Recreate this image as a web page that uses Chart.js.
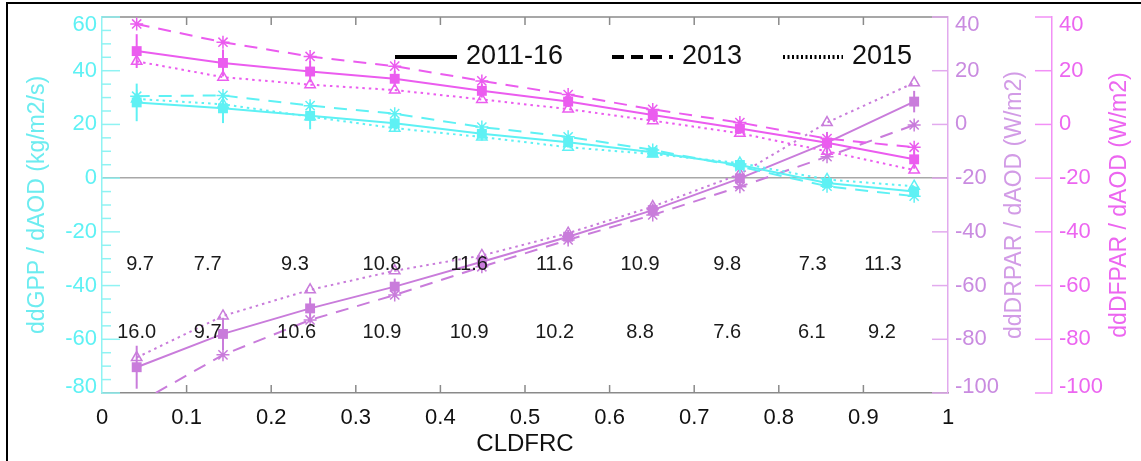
<!DOCTYPE html>
<html>
<head>
<meta charset="utf-8">
<title>CLDFRC sensitivity</title>
<script src="https://cdn.jsdelivr.net/npm/chart.js@4.4.1/dist/chart.umd.min.js"></script>
<style>
  html, body { margin: 0; padding: 0; background: #fff; overflow: hidden; }
  #wrap { position: relative; width: 1141px; height: 461px; overflow: hidden; }
  #frame { position: absolute; left: 6px; top: 2px; width: 1200px; height: 500px;
           border-top: 2px solid #000; border-left: 2px solid #000; pointer-events: none; }
</style>
</head>
<body>
<div id="wrap">
  <canvas id="cv" width="1141" height="461"></canvas>
  <div id="frame"></div>
</div>
<script>
// ---- values ----
const CLDFRC = [0.041, 0.143, 0.246, 0.346, 0.449, 0.551, 0.651, 0.754, 0.857, 0.960];

// ddGPP / dAOD (left axis)
const GPP_2011 = [28.2, 26.0, 23.2, 20.4, 16.5, 13.4, 9.6, 4.9, -1.8, -5.0];
const GPP_2013 = [30.5, 30.8, 27.0, 24.0, 19.0, 15.4, 10.5, 4.3, -3.0, -6.7];
const GPP_2015 = [29.5, 27.5, 22.9, 18.6, 15.3, 11.5, 9.0, 5.6, -0.5, -3.0];
const GPP_ERR  = [7.0, 5.5, 5.0, 3.0, 2.5, 2.0, 1.5, 1.5, 1.5, 2.0];

// ddDFPAR / dAOD (outer right axis)
const DFPAR_2011 = [27.3, 22.9, 19.7, 17.0, 12.5, 8.5, 3.5, -1.5, -6.8, -13.0];
const DFPAR_2013 = [37.4, 30.6, 25.3, 21.7, 16.2, 11.1, 5.6, 0.7, -5.3, -8.5];
const DFPAR_2015 = [23.5, 17.6, 14.8, 12.8, 9.3, 5.7, 1.4, -3.3, -10.0, -17.0];
const DFPAR_ERR  = [6.3, 5.0, 4.0, 3.0, 2.5, 2.0, 2.0, 2.0, 3.0, 3.5];

// ddDRPAR / dAOD (inner right axis)
const DRPAR_2011 = [-90.4, -78.0, -68.5, -60.4, -51.1, -41.8, -31.9, -20.1, -6.8, 8.5];
const DRPAR_2013 = [-104.0, -85.8, -72.8, -63.5, -53.0, -43.0, -33.7, -23.2, -12.0, -0.2];
const DRPAR_2015 = [-86.8, -71.3, -61.6, -54.5, -48.8, -40.5, -30.6, -18.5, 0.7, 15.5];
const DRPAR_ERR  = [8.0, 6.0, 4.0, 3.0, 2.5, 2.5, 2.5, 2.5, 4.0, 4.0];

// number rows printed inside the plot (placed on the GPP axis)
const ROW1_X = [0.045, 0.125, 0.228, 0.331, 0.434, 0.535, 0.636, 0.739, 0.840, 0.923];
const ROW1_TXT = ['9.7', '7.7', '9.3', '10.8', '11.6', '11.6', '10.9', '9.8', '7.3', '11.3'];
const ROW1_Y = -32.3;
const ROW2_X = [0.041, 0.125, 0.230, 0.331, 0.434, 0.535, 0.636, 0.739, 0.839, 0.922];
const ROW2_TXT = ['16.0', '9.7', '10.6', '10.9', '10.9', '10.2', '8.8', '7.6', '6.1', '9.2'];
const ROW2_Y = -57.6;

// ticks
const X_TICK_LABELS = ['0', '0.1', '0.2', '0.3', '0.4', '0.5', '0.6', '0.7', '0.8', '0.9', '1'];
const GPP_TICK_LABELS = ['-80', '-60', '-40', '-20', '0', '20', '40', '60'];
const PAR_TICK_LABELS = ['-100', '-80', '-60', '-40', '-20', '0', '20', '40'];
const LEGEND_LABELS = ['2011-16', '2013', '2015'];

// ---- colours ----
const CYAN = '#5ef1f4';
const CYAN_AXIS = '#8ff3f3';
const MAGENTA = '#eb5cef';
const MAGENTA_AXIS = '#f290f6';
const ORCHID = '#c97cdb';
const ORCHID_AXIS = '#e2aaee';
const FRAME_GREY = '#8a8a8a';
const FONT = "'Liberation Sans', Arial, Helvetica, sans-serif";

// ---- datasets ----
const STYLE = {
    solid:  { dash: [],       point: 'rect',     radius: 7 },
    dashed: { dash: [13, 9],  point: 'star',     radius: 6.5 },
    dotted: { dash: [2.5, 4], point: 'triangle', radius: 6 }
};

function makeSet(label, ys, color, axis, kind) {
    const s = STYLE[kind];
    return {
        label: label,
        yAxisID: axis,
        data: CLDFRC.map((x, i) => ({ x: x, y: ys[i] })),
        showLine: true,
        borderColor: color,
        borderWidth: 2,
        borderDash: s.dash,
        pointStyle: s.point,
        pointRadius: s.radius,
        pointHoverRadius: s.radius,
        pointBorderColor: color,
        pointBorderWidth: kind === 'solid' ? 0 : 1.5,
        pointBackgroundColor: kind === 'solid' ? color : 'rgba(255,255,255,0)',
        tension: 0,
        fill: false
    };
}

const datasets = [
    makeSet('GPP 2011-16', GPP_2011, CYAN, 'y', 'solid'),
    makeSet('GPP 2013', GPP_2013, CYAN, 'y', 'dashed'),
    makeSet('GPP 2015', GPP_2015, CYAN, 'y', 'dotted'),
    makeSet('DFPAR 2011-16', DFPAR_2011, MAGENTA, 'y2', 'solid'),
    makeSet('DFPAR 2013', DFPAR_2013, MAGENTA, 'y2', 'dashed'),
    makeSet('DFPAR 2015', DFPAR_2015, MAGENTA, 'y2', 'dotted'),
    makeSet('DRPAR 2011-16', DRPAR_2011, ORCHID, 'y1', 'solid'),
    makeSet('DRPAR 2013', DRPAR_2013, ORCHID, 'y1', 'dashed'),
    makeSet('DRPAR 2015', DRPAR_2015, ORCHID, 'y1', 'dotted')
];

const ERROR_BARS = [
    { axis: 'y',  ys: GPP_2011,   err: GPP_ERR,   color: CYAN },
    { axis: 'y2', ys: DFPAR_2011, err: DFPAR_ERR, color: MAGENTA },
    { axis: 'y1', ys: DRPAR_2011, err: DRPAR_ERR, color: ORCHID }
];

// ---- helpers ----
function seg(ctx, x0, y0, x1, y1) {
    ctx.beginPath();
    ctx.moveTo(x0, y0);
    ctx.lineTo(x1, y1);
    ctx.stroke();
}

// y labels, kept inside the axis span like the original plot does
function yLabels(ctx, scale, labels, x, align, color) {
    ctx.fillStyle = color;
    ctx.textAlign = align;
    ctx.textBaseline = 'middle';
    ctx.font = '22px ' + FONT;
    scale.ticks.forEach((t, i) => {
        let py = scale.getPixelForValue(t.value);
        py = Math.min(Math.max(py, scale.top + 7.5), scale.bottom - 6.5);
        ctx.fillText(labels[i], x, py);
    });
}

function vTitle(ctx, text, x, y, color) {
    ctx.save();
    ctx.translate(x, y);
    ctx.rotate(-Math.PI / 2);
    ctx.fillStyle = color;
    ctx.font = '23px ' + FONT;
    ctx.textAlign = 'center';
    ctx.textBaseline = 'middle';
    ctx.fillText(text, 0, 0);
    ctx.restore();
}

// ---- plugins ----
const frameTicks = {
    id: 'frameTicks',
    beforeDatasetsDraw(chart) {
        const { ctx, chartArea: a, scales } = chart;
        const xs = scales.x, yl = scales.y, yr1 = scales.y1, yr2 = scales.y2;
        ctx.save();
        ctx.lineWidth = 1.5;

        // top frame + x ticks (inward, top and bottom)
        ctx.strokeStyle = FRAME_GREY;
        seg(ctx, a.left, a.top, a.right, a.top);
        xs.ticks.forEach(t => {
            if (t.value <= 0.001 || t.value >= 0.999) return;
            const px = xs.getPixelForValue(t.value);
            seg(ctx, px, a.top, px, a.top + 8);
            seg(ctx, px, a.bottom, px, a.bottom - 8);
        });

        // left axis: major every 20, minor every 5
        ctx.strokeStyle = CYAN_AXIS;
        for (let v = yl.min; v <= yl.max; v += 5) {
            const py = yl.getPixelForValue(v);
            seg(ctx, a.left, py, a.left + (v % 20 === 0 ? 18 : 9), py);
        }

        // inner right axis ticks point into the plot
        ctx.strokeStyle = ORCHID_AXIS;
        yr1.ticks.forEach(t => {
            const py = yr1.getPixelForValue(t.value);
            seg(ctx, a.right, py, a.right - 16, py);
        });

        // outer right axis ticks point left
        ctx.strokeStyle = MAGENTA_AXIS;
        yr2.ticks.forEach(t => {
            const py = yr2.getPixelForValue(t.value);
            seg(ctx, yr2.left, py, yr2.left - 17, py);
        });

        // error bars of the 2011-16 series
        ctx.lineWidth = 2;
        ERROR_BARS.forEach(e => {
            const sc = scales[e.axis];
            ctx.strokeStyle = e.color;
            CLDFRC.forEach((x, i) => {
                const px = xs.getPixelForValue(x);
                const top = Math.max(sc.getPixelForValue(e.ys[i] + e.err[i]), a.top);
                const bot = Math.min(sc.getPixelForValue(e.ys[i] - e.err[i]), a.bottom);
                if (bot > top) seg(ctx, px, top, px, bot);
            });
        });
        ctx.restore();
    },
    afterDraw(chart) {
        const { ctx, chartArea: a, scales } = chart;
        const xs = scales.x, yl = scales.y, yr1 = scales.y1, yr2 = scales.y2;
        ctx.save();

        yLabels(ctx, yl, GPP_TICK_LABELS, a.left - 5, 'right', CYAN);
        yLabels(ctx, yr1, PAR_TICK_LABELS, yr1.left + 7, 'left', '#c98be0');
        yLabels(ctx, yr2, PAR_TICK_LABELS, yr2.left + 7, 'left', '#ec66f0');

        const midY = (a.top + a.bottom) / 2;
        vTitle(ctx, 'ddDRPAR / dAOD (W/m2)', yr1.left + 67, midY, '#d29be6');
        vTitle(ctx, 'ddDFPAR / dAOD (W/m2)', yr2.left + 68, midY, '#ec66f0');

        // number rows
        ctx.fillStyle = '#1a1a1a';
        ctx.font = '20px ' + FONT;
        ctx.textAlign = 'center';
        ctx.textBaseline = 'middle';
        ROW1_TXT.forEach((s, i) => ctx.fillText(s, xs.getPixelForValue(ROW1_X[i]), yl.getPixelForValue(ROW1_Y)));
        ROW2_TXT.forEach((s, i) => ctx.fillText(s, xs.getPixelForValue(ROW2_X[i]), yl.getPixelForValue(ROW2_Y)));

        // legend
        const legendY = 57;
        const items = [
            { dash: [], x0: 395, x1: 457 },
            { dash: [12, 7], x0: 612, x1: 673 },
            { dash: [2, 2.5], x0: 783, x1: 843 }
        ];
        ctx.strokeStyle = '#000';
        ctx.lineWidth = 4;
        ctx.fillStyle = '#111';
        ctx.font = '27px ' + FONT;
        ctx.textAlign = 'left';
        items.forEach((it, i) => {
            ctx.setLineDash(it.dash);
            seg(ctx, it.x0, legendY, it.x1, legendY);
            ctx.fillText(LEGEND_LABELS[i], it.x1 + 9, legendY);
        });
        ctx.setLineDash([]);
        ctx.restore();
    }
};

Chart.defaults.font.family = FONT;

new Chart(document.getElementById('cv'), {
    type: 'scatter',
    data: { datasets: datasets },
    options: {
        responsive: false,
        animation: false,
        events: [],
        layout: { padding: { top: 17, left: 0, right: 0, bottom: 0 } },
        plugins: { legend: { display: false }, tooltip: { enabled: false } },
        scales: {
            x: {
                type: 'linear',
                min: 0, max: 1,
                ticks: {
                    stepSize: 0.1,
                    color: '#111',
                    font: { size: 22 },
                    padding: 12,
                    maxRotation: 0,
                    autoSkip: false,
                    callback: (v, i) => X_TICK_LABELS[i]
                },
                grid: { display: false, drawTicks: false },
                border: { display: true, color: FRAME_GREY, width: 1.5 },
                title: { display: true, text: 'CLDFRC', color: '#111', font: { size: 24 }, padding: { top: 0, bottom: 2 } },
                afterFit: s => { s.height = 68; }
            },
            y: {
                position: 'left',
                min: -80, max: 60,
                ticks: { stepSize: 20, display: false },
                grid: {
                    drawTicks: false,
                    lineWidth: 1.5,
                    color: c => (c.tick && c.tick.value === 0) ? '#a8a8a8' : 'rgba(0,0,0,0)'
                },
                border: { display: true, color: CYAN_AXIS, width: 1.5 },
                title: { display: true, text: 'ddGPP / dAOD (kg/m2/s)', color: '#6cecf0', font: { size: 23 }, padding: { top: 24, bottom: 0 } },
                afterFit: s => { s.width = 102; }
            },
            y1: {
                position: 'right',
                weight: 0,
                min: -100, max: 40,
                ticks: { stepSize: 20, display: false },
                grid: { display: false, drawTicks: false },
                border: { display: true, color: ORCHID_AXIS, width: 1.5 },
                afterFit: s => { s.width = 104; }
            },
            y2: {
                position: 'right',
                weight: 1,
                min: -100, max: 40,
                ticks: { stepSize: 20, display: false },
                grid: { display: false, drawTicks: false },
                border: { display: true, color: MAGENTA_AXIS, width: 1.5 },
                afterFit: s => { s.width = 89; }
            }
        }
    },
    plugins: [frameTicks]
});
</script>
</body>
</html>
